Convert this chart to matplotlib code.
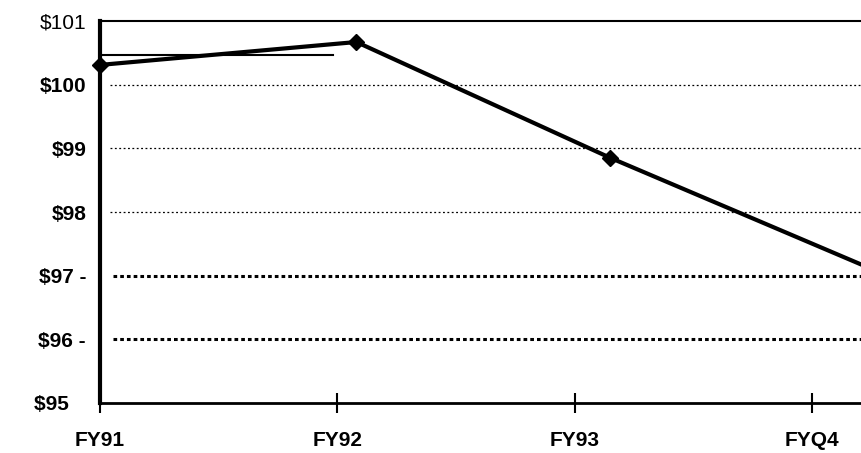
import matplotlib
matplotlib.use("Agg")
import matplotlib.pyplot as plt

plt.rcParams['font.family'] = ['Liberation Sans', 'DejaVu Sans']

# fiscal year categories on the x axis
categories = ['FY91', 'FY92', 'FY93', 'FYQ4']
# plotted series (x as category position, y in dollars)
series_x = [0.0, 1.08, 2.15, 3.21]
series_y = [100.31, 100.67, 98.85, 97.17]
# reference level line drawn across the first period
ref_level = 100.46
ref_span = [0.0, 0.98]

ytick_vals = [95, 96, 97, 98, 99, 100, 101]
ytick_text = ['$95   ', '$96 -', '$97 -', '$98', '$99', '$100', '$101']
thin_grid = [98, 99, 100]
thick_grid = [96, 97]

fig = plt.figure(figsize=(8.62, 4.53), dpi=100)
ax = fig.add_axes([100 / 862, 50 / 453, 762 / 862, 382 / 453])

ax.set_xlim(0, 3.21)
ax.set_ylim(95, 101)

for g in thin_grid:
    ax.axhline(g, xmin=0.013, xmax=1, color='black', lw=0.9, ls=(0, (1.5, 2)))
for g in thick_grid:
    ax.axhline(g, xmin=0.017, xmax=1, color='black', lw=2.2, ls=(0, (1.2, 1.0)))

ax.plot(ref_span, [ref_level, ref_level], color='black', lw=1.5)
ax.plot(series_x, series_y, color='black', lw=3, marker='D', markersize=8,
        markevery=[0, 1, 2], clip_on=False, zorder=5)

ax.set_xticks(range(len(categories)))
ax.set_xticklabels(categories, fontsize=15, fontweight='bold')
ax.tick_params(axis='x', direction='inout', length=14, width=1.5, pad=13)

ax.set_yticks(ytick_vals)
ax.set_yticklabels(ytick_text, fontsize=15)
for lbl, v in zip(ax.get_yticklabels(), ytick_vals):
    if v != 101:
        lbl.set_fontweight('bold')
ax.tick_params(axis='y', length=0, pad=10)

ax.spines['right'].set_visible(False)
ax.spines['left'].set_linewidth(3)
ax.spines['bottom'].set_linewidth(2)
ax.spines['top'].set_linewidth(1.5)

fig.savefig('out.png', dpi=100)
